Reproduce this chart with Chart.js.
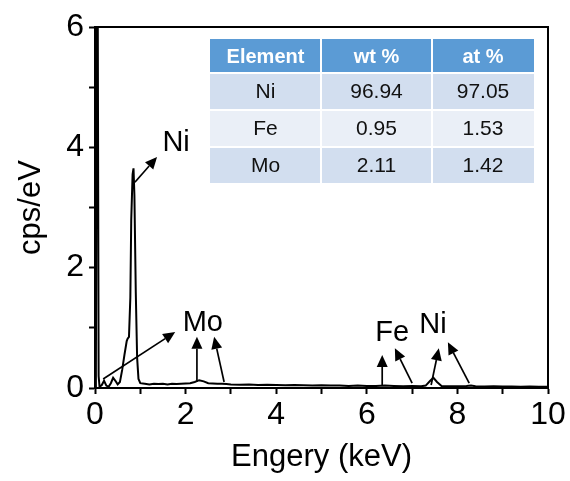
<!DOCTYPE html>
<html>
<head>
<meta charset="utf-8">
<script src="https://cdn.jsdelivr.net/npm/chart.js@4/dist/chart.umd.min.js"></script>
<style>
  html, body { margin: 0; padding: 0; background: #ffffff; }
  #wrap { width: 570px; height: 481px; }
</style>
</head>
<body>
<div id="wrap"><canvas id="c" width="570" height="481"></canvas></div>
<script>
// ---- Data ----
const energyKeV = [
  0.00, 0.02, 0.04, 0.06, 0.08, 0.10, 0.15, 0.20, 0.25, 0.30,
  0.35, 0.40, 0.45, 0.50, 0.55, 0.60, 0.65, 0.70, 0.72, 0.75,
  0.78, 0.80, 0.83, 0.85, 0.87, 0.90, 0.93, 0.96, 1.00, 1.10,
  1.20, 1.30, 1.40, 1.50, 1.60, 1.70, 1.80, 1.90, 2.00, 2.10,
  2.20, 2.30, 2.40, 2.50, 2.60, 2.70, 2.80, 2.90, 3.00, 3.20,
  3.40, 3.60, 3.80, 4.00, 4.20, 4.40, 4.60, 4.80, 5.00, 5.20,
  5.40, 5.60, 5.80, 6.00, 6.20, 6.40, 6.60, 6.80, 7.00, 7.20,
  7.30, 7.40, 7.47, 7.55, 7.65, 7.80, 8.00, 8.20, 8.30, 8.40,
  8.60, 8.80, 9.00, 9.20, 9.40, 9.60, 9.80, 10.00
];
const cpsPerEV = [
  0.00, 0.30, 6.50, 6.50, 0.20, 0.02, 0.05, 0.12, 0.04, 0.02,
  0.08, 0.17, 0.12, 0.06, 0.10, 0.30, 0.55, 0.78, 0.82, 0.85,
  1.50, 2.80, 3.55, 3.65, 3.20, 1.60, 0.50, 0.15, 0.08, 0.07,
  0.06, 0.07, 0.065, 0.07, 0.06, 0.07, 0.065, 0.07, 0.075, 0.08,
  0.10, 0.13, 0.11, 0.08, 0.075, 0.07, 0.07, 0.065, 0.06, 0.055,
  0.06, 0.05, 0.055, 0.05, 0.045, 0.05, 0.045, 0.04, 0.045, 0.04,
  0.04, 0.035, 0.04, 0.035, 0.035, 0.04, 0.035, 0.03, 0.035, 0.03,
  0.04, 0.12, 0.17, 0.10, 0.035, 0.03, 0.03, 0.035, 0.04, 0.03,
  0.025, 0.03, 0.025, 0.025, 0.02, 0.025, 0.02, 0.02
];

// Tick labels shown (others are unlabeled minor ticks)
const xTickLabels = ['0', '2', '4', '6', '8', '10'];
const yTickLabels = ['0', '2', '4', '6'];

// Composition table
const tableHeader = ['Element', 'wt %', 'at %'];
const tableElements = ['Ni', 'Fe', 'Mo'];
const tableWt = ['96.94', '0.95', '2.11'];
const tableAt = ['97.05', '1.53', '1.42'];

// Peak labels (data coordinates)
const peakLabels = ['Ni', 'Mo', 'Fe', 'Ni'];
const peakLabelX = [1.79, 2.38, 6.56, 7.46];
const peakLabelY = [4.07, 1.08, 0.91, 1.05];

// Arrows (data coordinates, head at "to")
const arrowFromX = [0.88, 0.18, 2.25, 2.85, 6.34, 7.00, 7.42, 8.26];
const arrowFromY = [3.42, 0.15, 0.10, 0.10, 0.05, 0.08, 0.05, 0.08];
const arrowToX   = [1.37, 1.77, 2.25, 2.63, 6.34, 6.62, 7.59, 7.79];
const arrowToY   = [3.84, 0.93, 0.85, 0.85, 0.55, 0.66, 0.66, 0.76];

// ---- Chart ----
const FONT = '"Liberation Sans", Arial, Helvetica, sans-serif';
const points = energyKeV.map((e, i) => ({ x: e, y: cpsPerEV[i] }));

const framePlugin = {
  id: 'frame',
  afterDraw(chart) {
    const { ctx, chartArea: a } = chart;
    ctx.save();
    ctx.strokeStyle = '#000';
    ctx.lineWidth = 2;
    ctx.strokeRect(a.left, a.top, a.right - a.left, a.bottom - a.top);
    ctx.restore();
  }
};

function drawArrow(ctx, x1, y1, x2, y2) {
  const ang = Math.atan2(y2 - y1, x2 - x1);
  const headLen = 12, headW = 5.5;
  const bx = x2 - headLen * Math.cos(ang), by = y2 - headLen * Math.sin(ang);
  ctx.beginPath();
  ctx.moveTo(x1, y1);
  ctx.lineTo(bx, by);
  ctx.stroke();
  ctx.beginPath();
  ctx.moveTo(x2, y2);
  ctx.lineTo(bx + headW * Math.sin(ang), by - headW * Math.cos(ang));
  ctx.lineTo(bx - headW * Math.sin(ang), by + headW * Math.cos(ang));
  ctx.closePath();
  ctx.fill();
}

const annotPlugin = {
  id: 'annot',
  afterDatasetsDraw(chart) {
    const { ctx, scales: { x, y } } = chart;
    ctx.save();
    ctx.strokeStyle = '#000';
    ctx.fillStyle = '#000';
    ctx.lineWidth = 1.7;
    for (let i = 0; i < arrowFromX.length; i++) {
      drawArrow(ctx,
        x.getPixelForValue(arrowFromX[i]), y.getPixelForValue(arrowFromY[i]),
        x.getPixelForValue(arrowToX[i]), y.getPixelForValue(arrowToY[i]));
    }
    ctx.font = '29px ' + FONT;
    ctx.textAlign = 'center';
    ctx.textBaseline = 'middle';
    for (let i = 0; i < peakLabels.length; i++) {
      ctx.fillText(peakLabels[i], x.getPixelForValue(peakLabelX[i]), y.getPixelForValue(peakLabelY[i]));
    }

    // Table
    const cols = [210, 321, 432, 534];
    const rows = [39, 73, 110, 147, 183];
    const rowFill = ['#5B9BD5', '#D2DEEF', '#EAEFF7', '#D2DEEF'];
    const gap = 1;
    for (let r = 0; r < 4; r++) {
      for (let c = 0; c < 3; c++) {
        ctx.fillStyle = rowFill[r];
        ctx.fillRect(cols[c] + (c > 0 ? gap : 0), rows[r] + (r > 0 ? gap : 0),
          cols[c + 1] - cols[c] - (c > 0 ? gap : 0) - (c < 2 ? gap : 0),
          rows[r + 1] - rows[r] - (r > 0 ? gap : 0) - (r < 3 ? gap : 0));
      }
    }
    const body = [tableHeader];
    for (let i = 0; i < tableElements.length; i++) body.push([tableElements[i], tableWt[i], tableAt[i]]);
    for (let r = 0; r < body.length; r++) {
      ctx.font = (r === 0 ? 'bold 20px ' : '21px ') + FONT;
      ctx.fillStyle = r === 0 ? '#FFFFFF' : '#111111';
      for (let c = 0; c < 3; c++) {
        ctx.fillText(body[r][c], (cols[c] + cols[c + 1]) / 2, (rows[r] + rows[r + 1]) / 2 + 1);
      }
    }
    ctx.restore();
  }
};

new Chart(document.getElementById('c'), {
  type: 'line',
  data: {
    datasets: [{
      data: points,
      borderColor: '#000',
      borderWidth: 2,
      pointRadius: 0,
      tension: 0,
      fill: false
    }]
  },
  options: {
    responsive: false,
    animation: false,
    devicePixelRatio: 1,
    layout: { padding: { top: 27, right: 22, left: 0, bottom: 0 } },
    plugins: { legend: { display: false }, tooltip: { enabled: false } },
    scales: {
      x: {
        type: 'linear',
        min: 0, max: 10,
        afterFit(s) { s.height = 93; },
        ticks: {
          stepSize: 1, autoSkip: false, maxRotation: 0, padding: 2,
          color: '#000', font: { family: FONT, size: 32 },
          callback: (v) => (xTickLabels.includes(String(v)) ? String(v) : '')
        },
        grid: { drawOnChartArea: false, drawTicks: true, tickLength: 6, tickWidth: 2, color: '#000' },
        border: { display: true, color: '#000', width: 2 },
        title: { display: true, text: 'Engery (keV)', color: '#000', font: { family: FONT, size: 31 }, padding: { top: 0, bottom: 5 } }
      },
      y: {
        min: 0, max: 6,
        afterFit(s) { s.width = 95; },
        ticks: {
          stepSize: 1, autoSkip: false, padding: 5,
          color: '#000', font: { family: FONT, size: 32 },
          callback: (v) => (yTickLabels.includes(String(v)) ? String(v) : '')
        },
        grid: { drawOnChartArea: false, drawTicks: true, tickLength: 6, tickWidth: 2, color: '#000' },
        border: { display: true, color: '#000', width: 2 },
        title: { display: true, text: 'cps/eV', color: '#000', font: { family: FONT, size: 31 }, padding: { top: 13, bottom: 0 } }
      }
    }
  },
  plugins: [framePlugin, annotPlugin]
});
</script>
</body>
</html>
